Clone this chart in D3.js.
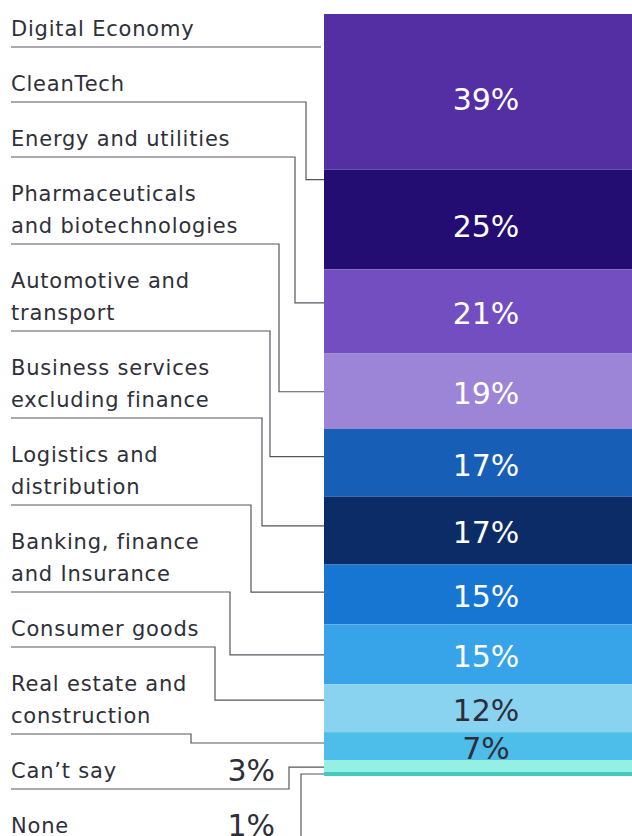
<!DOCTYPE html>
<html>
<head>
<meta charset="utf-8">
<script src="https://cdn.jsdelivr.net/npm/d3@7.9.0/dist/d3.min.js"></script>
<style>
  html, body { margin: 0; padding: 0; background: #fff; overflow: hidden; }
  svg { display: block; }
</style>
</head>
<body>
<div id="viz"></div>
<script>
// Data
const sectors = [
  "Digital Economy", "CleanTech", "Energy and utilities",
  "Pharmaceuticals and biotechnologies", "Automotive and transport",
  "Business services excluding finance", "Logistics and distribution",
  "Banking, finance and Insurance", "Consumer goods",
  "Real estate and construction", "Can't say", "None"
];
// how each label breaks into lines
const labelLines = [
  ["Digital Economy"], ["CleanTech"], ["Energy and utilities"],
  ["Pharmaceuticals", "and biotechnologies"], ["Automotive and", "transport"],
  ["Business services", "excluding finance"], ["Logistics and", "distribution"],
  ["Banking, finance", "and Insurance"], ["Consumer goods"],
  ["Real estate and", "construction"], ["Can\u2019t say"], ["None"]
];
const shares = [39, 25, 21, 19, 17, 17, 15, 15, 12, 7, 3, 1];
const colors = [
  "#542ea3", "#230d72", "#734ec1", "#9c84d6", "#175eb6", "#0b2c66",
  "#1776d2", "#37a3e8", "#89d3f1", "#4dbee9", "#93f0e2", "#45c8bd"
];

// Layout for the leader lines (elbow x, and where on the segment they land)
const elbowX = [null, 306, 295, 279, 270, 262, 251, 230, 215, 191, 289, 301];
const landAt = [null, 0.10, 0.40, 0.51, 0.41, 0.43, 0.46, 0.51, 0.33, 0.39, 0.6, 0.5];

const W = 632, H = 836;
const barX0 = 324, barX1 = 648;
const total = d3.sum(shares);

const svg = d3.select("#viz").append("svg")
  .attr("width", W).attr("height", H);

const y = d3.scaleLinear().domain([0, total]).range([14, 776]);

// stack
const stack = [];
let acc = 0;
shares.forEach((v, i) => {
  stack.push({ i, v, y0: acc, y1: acc + v });
  acc += v;
});

svg.append("g").selectAll("rect")
  .data(stack)
  .join("rect")
  .attr("x", barX0)
  .attr("width", barX1 - barX0)
  .attr("y", d => y(d.y0))
  .attr("height", d => y(d.y1) - y(d.y0))
  .attr("fill", d => colors[d.i]);

// values inside the bar (the two smallest go next to their labels)
const darkText = "#2e2e38";
svg.append("g").selectAll("text")
  .data(stack.filter(d => d.v >= 5))
  .join("text")
  .attr("x", (barX0 + barX1) / 2)
  .attr("y", d => (y(d.y0) + y(d.y1)) / 2 + (d.v > 22 ? 7 : 2))
  .attr("dy", "0.36em")
  .attr("text-anchor", "middle")
  .attr("font-family", "DejaVu Sans, sans-serif")
  .attr("font-size", 30)
  .attr("fill", d => d.v > 12 ? "#fff" : darkText)
  .text(d => d.v + "%");

// label blocks on the left
const lineH = 32;
let under = 47;
const blocks = labelLines.map((lines, i) => {
  if (i > 0) under += 23 + lineH * lines.length;
  return { i, lines, under, base: under - 11 - lineH * (lines.length - 1) };
});

const lab = svg.append("g")
  .attr("font-family", "DejaVu Sans, sans-serif")
  .attr("font-size", 21)
  .attr("letter-spacing", "0.8px")
  .attr("fill", "#2f2f39");

blocks.forEach(b => {
  b.lines.forEach((t, k) => {
    lab.append("text")
      .attr("x", 11)
      .attr("y", b.base + k * lineH)
      .text(t);
  });
});

// outside values for small shares
svg.append("g").selectAll("text")
  .data(stack.filter(d => d.v < 5))
  .join("text")
  .attr("x", 275)
  .attr("y", d => blocks[d.i].base + 3)
  .attr("text-anchor", "end")
  .attr("font-family", "DejaVu Sans, sans-serif")
  .attr("font-size", 30)
  .attr("fill", darkText)
  .text(d => d.v + "%");

// leader lines
svg.append("g").selectAll("path")
  .data(blocks)
  .join("path")
  .attr("fill", "none")
  .attr("stroke", "#55555f")
  .attr("stroke-width", 1.2)
  .attr("d", b => {
    if (elbowX[b.i] == null) return `M11,${b.under}H${barX0 - 3}`;
    const s = stack[b.i];
    const ly = y(s.y0 + landAt[b.i] * s.v);
    return `M11,${b.under}H${elbowX[b.i]}V${ly}H${barX0}`;
  });
</script>
</body>
</html>
